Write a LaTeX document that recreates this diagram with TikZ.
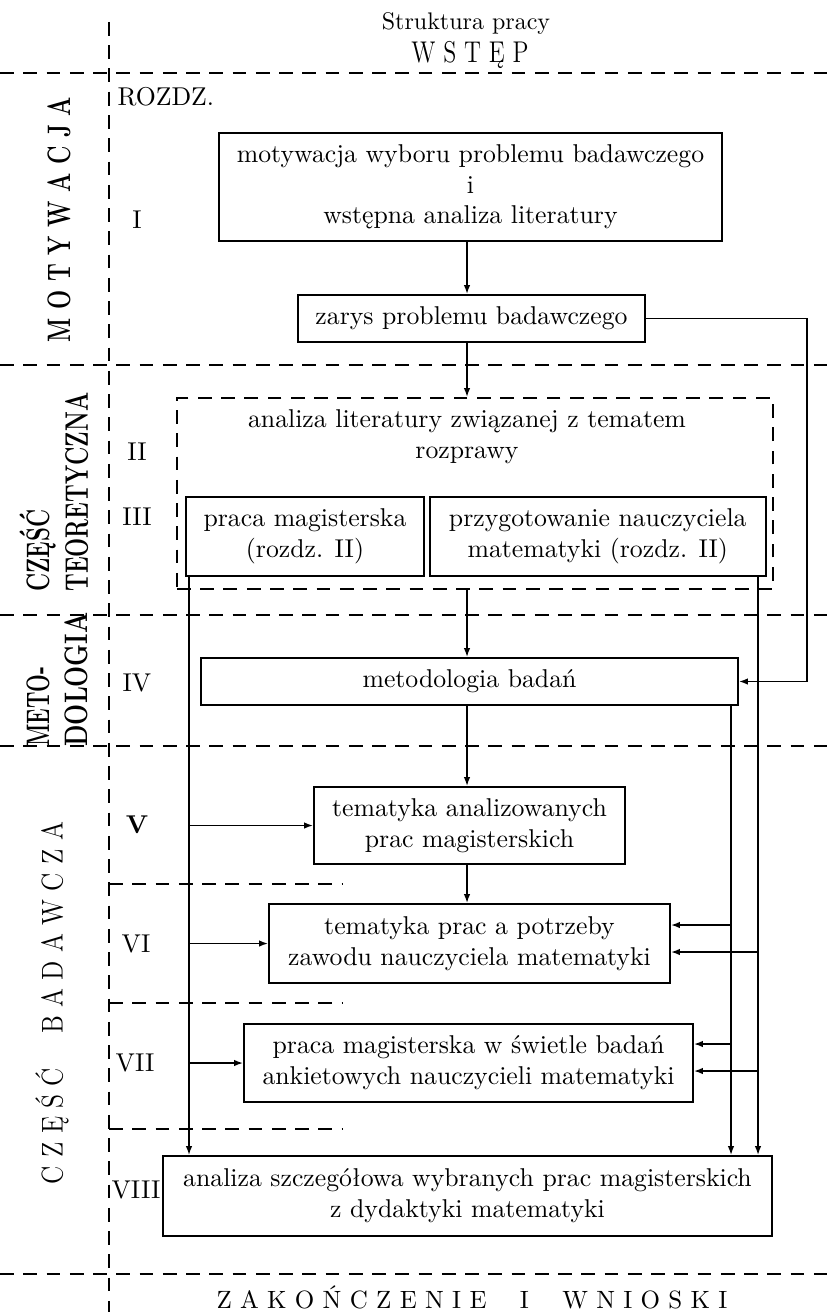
\documentclass[tikz,border=0pt]{standalone}
\usepackage{tikz}
\usepackage{graphicx}
\usetikzlibrary{positioning,calc,arrows.meta}
\tikzset{dbox/.style={draw, line width=0.7pt, inner sep=0pt, align=center}}
\tikzset{dsep/.style={draw, line width=0.7pt, dash pattern=on 5.5pt off 3.8pt}}
\tikzset{arr1/.style={draw, -{Latex[length=3.6pt,width=2.6pt]}, line width=0.65pt}}
\tikzset{lbl/.style={inner sep=0pt}}
\tikzset{side/.style={inner sep=0pt, rotate=90}}
\newcommand{\sidetext}[2]{\resizebox{#1}{\height}{\fontsize{13}{15}\selectfont\bfseries #2}}

\begin{document}
\begin{tikzpicture}[x=0.4pt, y=-0.4pt, every node/.append style={font=\fontsize{10.3}{12.3}\selectfont}]
			\useasboundingbox (0,0) rectangle (827,1312);
			\draw[dsep] (109,22) -- (109,1312);
			\foreach \yy in {73,365,615,746,1274} \draw[dsep] (0,\yy) -- (827,\yy);
			\foreach \yy in {884,1003,1129} \draw[dsep] (109,\yy) -- (342,\yy);
%
			\node[lbl, anchor=base, font=\fontsize{9.6}{11}\selectfont] (tytul) at (466,30) {Struktura pracy};
			\node[lbl, anchor=base] (wstep) at (470,63) {\scalebox{0.8}[1]{\large W S T Ę P}};
			\node[lbl, anchor=base, font=\normalsize] (zakon) at (472,1308) {Z A K O Ń C Z E N I E\quad\ I\quad\ W N I O S K I};
%
			\node[side] (motyw) at (59,219.5) {\sidetext{98pt}{M O T Y W A C J A}};
			\node[side, anchor=base west] (czesc1) at (49,592) {\sidetext{32.8pt}{CZĘŚĆ}};
			\node[side, anchor=base west] (teor) at (88,592) {\sidetext{79.6pt}{TEORETYCZNA}};
			\node[side, anchor=base west] (meto) at (49,747) {\sidetext{32pt}{METO-}};
			\node[side, anchor=base west] (dolog) at (88,747) {\sidetext{53.6pt}{DOLOGIA}};
			\node[side] (badaw) at (52,1003) {\resizebox{145pt}{\height}{\fontsize{12}{14}\selectfont C Z Ę Ś Ć\quad\ B A D A W C Z A}};
%
			\node[lbl, anchor=west] (rozdz) at (117,97) {ROZDZ.};
			\node[lbl] (r1) at (137,220) {I};
			\node[lbl] (r2) at (137,452) {II};
			\node[lbl] (r3) at (137,517) {III};
			\node[lbl] (r4) at (137,683) {IV};
			\node[lbl] (r5) at (137,825) {\textbf{V}};
			\node[lbl] (r6) at (136,944) {VI};
			\node[lbl] (r7) at (135,1063) {VII};
			\node[lbl] (r8) at (136,1190) {VIII};
%
			\node[dbox, minimum width=201.2pt, minimum height=43.2pt] (b1) at (470.5,187) {motywacja wyboru problemu badawczego\\i\\wstępna analiza literatury};
			\node[dbox, minimum width=138.8pt, minimum height=18.8pt] (b2) at (471.5,318.5) {zarys problemu badawczego};
			\node[dbox, dash pattern=on 5.5pt off 3.8pt, minimum width=238.4pt, minimum height=76.4pt] (lit) at (475,493.5) {};
			\node[lbl, align=center] (littxt) at (467,437) {analiza literatury związanej z tematem\\rozprawy};
			\node[dbox, minimum width=95.2pt, minimum height=31.6pt] (pm) at (305,536.5) {praca magisterska\\(rozdz. II)};
			\node[dbox, minimum width=134.4pt, minimum height=31.6pt, right=1.6pt of pm] (pn) {przygotowanie nauczyciela\\matematyki (rozdz. II)};
			\node[dbox, minimum width=214.8pt, minimum height=18.8pt] (mb) at (469.5,681.5) {metodologia badań};
			\node[dbox, minimum width=124.4pt, minimum height=30.8pt] (t5) at (469.5,825.5) {tematyka analizowanych\\prac magisterskich};
			\node[dbox, minimum width=160.4pt, minimum height=31.6pt] (t6) at (469.5,943.5) {tematyka prac a potrzeby\\zawodu nauczyciela matematyki};
			\node[dbox, minimum width=179.6pt, minimum height=31.2pt] (t7) at (468.5,1063) {praca magisterska w świetle badań\\ankietowych nauczycieli matematyki};
			\node[dbox, minimum width=243.6pt, minimum height=32pt] (t8) at (467.5,1196) {analiza szczegółowa wybranych prac magisterskich\\z dydaktyki matematyki};
%
			\coordinate (mid) at (467,0);
			\coordinate (rzak) at (807,0);
			\coordinate (lpion) at (189,0);
			\coordinate (ppion1) at (731,0);
			\coordinate (ppion2) at (758,0);
			\draw[arr1] (b1.south -| mid) -- (b2.north -| mid);
			\draw[arr1] (b2.south -| mid) -- (lit.north -| mid);
			\draw[arr1] (lit.south -| mid) -- (mb.north -| mid);
			\draw[arr1] (mb.south -| mid) -- (t5.north -| mid);
			\draw[arr1] (t5.south -| mid) -- (t6.north -| mid);
			\draw[arr1] (b2.east) -| (rzak |- mb.east) -- (mb.east);
%
			\draw[arr1] (pm.south -| lpion) -- (t8.north -| lpion);
			\foreach \t in {t5,t6,t7} \draw[arr1] (\t.west -| lpion) -- (\t.west);
			\draw[arr1] (mb.south -| ppion1) -- (t8.north -| ppion1);
			\draw[arr1] (pn.south -| ppion2) -- (t8.north -| ppion2);
			\coordinate (t6a) at ($(t6.east)+(0,-18.5)$);
			\coordinate (t6b) at ($(t6.east)+(0,8.5)$);
			\coordinate (t7a) at ($(t7.east)+(0,-19)$);
			\coordinate (t7b) at ($(t7.east)+(0,8)$);
			\draw[arr1] (t6a -| ppion1) -- (t6a);
			\draw[arr1] (t6b -| ppion2) -- (t6b);
			\draw[arr1] (t7a -| ppion1) -- (t7a);
			\draw[arr1] (t7b -| ppion2) -- (t7b);
		\end{tikzpicture}
\end{document}
